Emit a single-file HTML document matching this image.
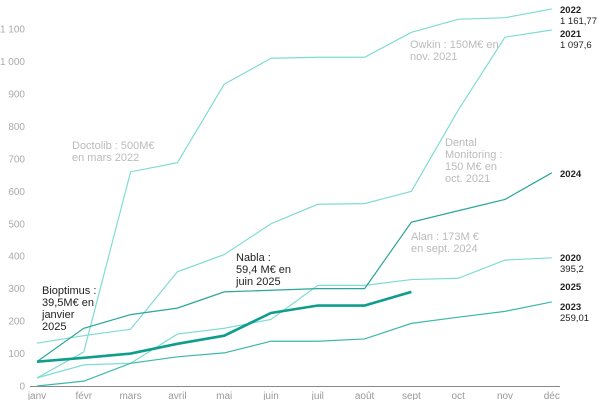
<!DOCTYPE html>
<html><head><meta charset="utf-8"><style>
body{margin:0;background:#fff;}
svg{display:block;font-family:"Liberation Sans",sans-serif;}
.t{font-size:10px;fill:#aaa}
.x{font-size:10px;fill:#999;text-anchor:middle}
.a{font-size:11px;fill:#bbb}
.b{font-size:11px;fill:#222}
.l{font-size:9.5px;fill:#222;font-weight:bold}
.v{font-size:9.5px;fill:#222}
</style></head><body>
<svg id="s" width="600" height="400" xmlns="http://www.w3.org/2000/svg"></svg>
<script>
var s=document.getElementById('s'),h='';
function Y(v){return 386-v*0.3245;}
function X(i){return 37+i*46.8;}
for(var k=0;k<=11;k++){h+='<text class="t" x="25" y="'+(Y(k*100)+3.5)+'" text-anchor="end">'+(k==0?'0':k==10?'1 000':k==11?'1 100':k*100)+'</text>';}
var m=['janv','févr','mars','avril','mai','juin','juil','août','sept','oct','nov','déc'];
m.forEach(function(t,i){h+='<text class="x" x="'+X(i)+'" y="399">'+t+'</text>';});
h+='<line x1="30" y1="386.5" x2="560" y2="386.5" stroke="#888" stroke-width="1"/>';
var d=[
[[25,105,660,688,930,1010,1013,1013,1090,1130,1135,1162],'#7fdcd3',1.2],
[[132,155,175,352,405,500,560,562,600,850,1075,1097],'#7fdcd3',1.2],
[[25,65,70,160,178,205,310,310,328,332,388,395],'#7fdcd3',1.2],
[[0,15,70,90,102,138,138,145,193,212,230,259],'#3bb8ab',1.2],
[[75,178,220,240,290,295,300,300,505,540,575,657],'#2aa69a',1.2],
[[75,87,100,130,155,225,248,248,290],'#0f9e8e',2.6]];
d.forEach(function(r){h+='<polyline fill="none" stroke="'+r[1]+'" stroke-width="'+r[2]+'" points="'+r[0].map(function(v,i){return X(i)+','+Y(v)}).join(' ')+'"/>';});
function T(c,x,y,ls){ls.forEach(function(t,i){h+='<text class="'+c+'" x="'+x+'" y="'+(y+i*12)+'">'+t+'</text>';});}
T('a',72,149,['Doctolib : 500M€','en mars 2022']);
T('a',410,48,['Owkin : 150M€ en','nov. 2021']);
T('a',445,146,['Dental','Monitoring :','150 M€ en','oct. 2021']);
T('a',411,240,['Alan : 173M €','en sept. 2024']);
T('b',42,294,['Bioptimus :','39,5M€ en','janvier','2025']);
T('b',236,261,['Nabla :','59,4 M€ en','juin 2025']);
T('l',560,13,['2022']);T('v',560,24,['1 161,77']);
T('l',560,37,['2021']);T('v',560,48,['1 097,6']);
T('l',560,177,['2024']);
T('l',560,261,['2020']);T('v',560,272,['395,2']);
T('l',560,290,['2025']);
T('l',560,310,['2023']);T('v',560,321,['259,01']);
s.innerHTML=h;
</script>
</body></html>
